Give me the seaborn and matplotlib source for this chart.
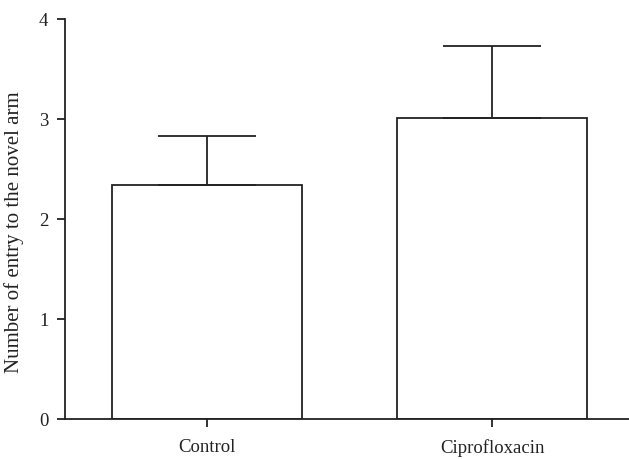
import matplotlib
matplotlib.use("Agg")
import matplotlib.pyplot as plt
import seaborn as sns
import pandas as pd

categories = ["Control", "Ciprofloxacin"]
means = [2.34, 3.01]
errors = [0.49, 0.72]

sns.set_theme(style="ticks")
plt.rcParams['font.family'] = ['Liberation Serif', 'DejaVu Serif']

df = pd.DataFrame({"group": categories, "value": means})

fig = plt.figure(figsize=(6.29, 4.60), dpi=100)
ax = fig.add_axes([65/629, 40/460, 1 - 65/629, 400/460])

sns.barplot(data=df, x="group", y="value", ax=ax, color="white",
            edgecolor="#222222", linewidth=1.3, width=0.667, errorbar=None)

ax.errorbar(range(len(categories)), means, yerr=[[0]*len(errors), errors],
            fmt="none", ecolor="#222222", elinewidth=1.3, capsize=35.5, capthick=1.3)

ax.set_ylim(0, 4)
ax.set_yticks([0, 1, 2, 3, 4])
ax.set_xlim(-0.5, 1.48)
ax.set_xlabel("")
ax.set_ylabel("Number of entry to the novel arm", fontsize=15, color="#222222")
ax.yaxis.set_label_coords(-0.072, 0.47)
ax.tick_params(axis="both", labelsize=13.5, width=1.3, length=6, color="#222222", labelcolor="#222222")
ax.tick_params(axis="x", pad=8)
ax.tick_params(axis="y", pad=6)
for s in ["top", "right"]:
    ax.spines[s].set_visible(False)
for s in ["left", "bottom"]:
    ax.spines[s].set_linewidth(1.3)
    ax.spines[s].set_color("#222222")

fig.savefig("out.png", dpi=100)
